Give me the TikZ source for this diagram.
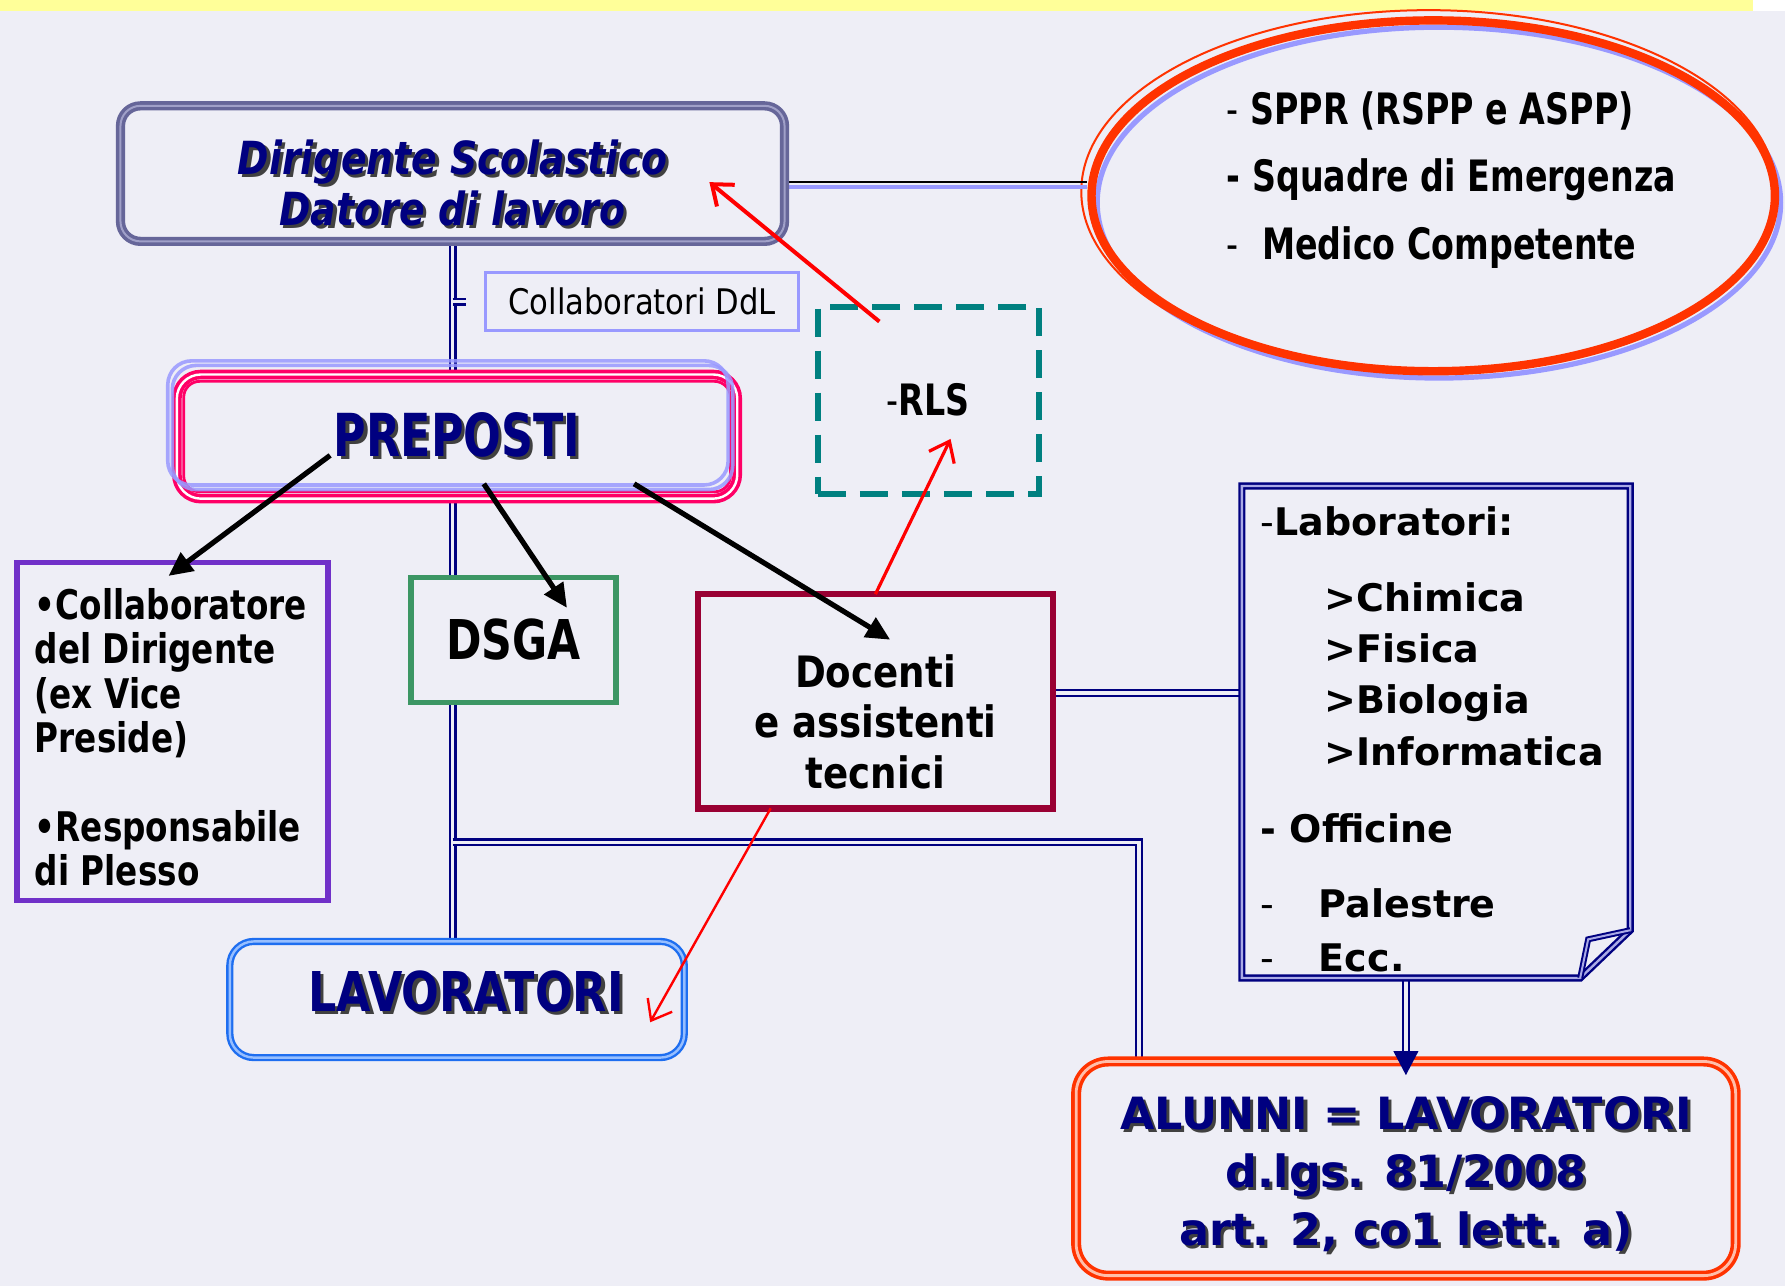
\documentclass[tikz,border=0pt]{standalone}
\usepackage{fontspec}
\setmainfont{DejaVu Sans}
\newfontfamily\fDir[FakeStretch=0.83]{DejaVu Sans}
\newfontfamily\fPrep[FakeStretch=0.75]{DejaVu Sans}
\newfontfamily\fLav[FakeStretch=0.81]{DejaVu Sans}
\newfontfamily\fDsga[FakeStretch=0.78]{DejaVu Sans}
\newfontfamily\fEll[FakeStretch=0.77]{DejaVu Sans}
\newfontfamily\fColl[FakeStretch=0.80]{DejaVu Sans}
\newfontfamily\fDoc[FakeStretch=0.86]{DejaVu Sans}
\newfontfamily\fDdl[FakeStretch=0.87]{DejaVu Sans}
\usetikzlibrary{arrows.meta,shapes.geometric,calc}
\definecolor{bgc}{RGB}{238,238,246}
\definecolor{navyc}{RGB}{0,0,128}
\definecolor{dirc}{RGB}{102,102,153}
\definecolor{dirin}{RGB}{160,160,200}
\definecolor{redc}{RGB}{255,51,0}
\definecolor{lavc}{RGB}{153,153,255}
\definecolor{pinkc}{RGB}{255,0,102}
\definecolor{tealc}{RGB}{0,128,128}
\definecolor{purc}{RGB}{112,48,200}
\definecolor{grnc}{RGB}{60,150,100}
\definecolor{marc}{RGB}{153,0,51}
\definecolor{bluc}{RGB}{30,110,240}
\definecolor{yelc}{RGB}{255,255,153}
\definecolor{labin}{RGB}{170,170,230}
\definecolor{aluin}{RGB}{255,190,170}
\definecolor{lavin}{RGB}{150,190,255}
\newcommand\shd[1]{\leavevmode\rlap{\kern0.8pt\raisebox{-0.8pt}{\textcolor{black!75}{#1}}}#1}
\pgfdeclarelayer{bgfill}
\pgfdeclarelayer{lines}
\pgfsetlayers{bgfill,lines,main}
\begin{document}
\begin{tikzpicture}[x=0.01cm,y=-0.01cm,
  box/.style={inner sep=0pt, outer sep=0pt, fill=bgc},
  lbl/.style={inner sep=0pt, align=center},
  dbl/.style={draw=navyc, line width=0.55pt, double=bgc, double distance=0.9pt},
  blk/.style={draw=black, line width=1.3pt, -{Triangle[length=6pt,width=5.5pt]}},
  redarr/.style={draw=red, -{Straight Barb[length=4.5pt,width=7pt]}},
]
\begin{pgfonlayer}{bgfill}
\fill[bgc] (0,0) rectangle (1568,1130);
\fill[yelc] (0,0) rectangle (1540,10);
\fill[white] (1540,0) rectangle (1568,10);
\end{pgfonlayer}
\useasboundingbox (0,0) rectangle (1568,1130);

% Dirigente
\node[box, draw=dirc, line width=0.9pt, double=dirin, double distance=0.5pt, rounded corners=5pt, minimum width=5.83cm, minimum height=1.19cm,
  label={[lbl, name=dirt, text=navyc, font=\fDir\bfseries\itshape\fontsize{11.4}{12.8}\selectfont, yshift=-0.095cm]center:{\shd{Dirigente Scolastico}\\\shd{Datore di lavoro}}}] (dir) at (397.5,152.5) {};

% ellipse
\node[ellipse, draw=redc, line width=2.1pt, minimum width=6cm, minimum height=3.08cm, inner sep=0pt,
  label={[lbl, align=left, name=ellt, font=\fEll\bfseries\fontsize{10.8}{16.8}\selectfont, xshift=0.16cm, yshift=0.14cm]center:{{\mdseries -} SPPR (RSPP e ASPP)\\- Squadre di Emergenza\\{\mdseries -}\ \ Medico Competente}}] (ell) at (1259,172) {};

% Collaboratori DdL
\node[box, draw=lavc, line width=0.8pt, minimum width=2.75cm, minimum height=0.51cm,
  font=\fDdl\fontsize{8.8}{10}\selectfont] (ddl) at (564,265) {Collaboratori DdL};

% PREPOSTI
\node[box, draw=pinkc, line width=0.9pt, double=white, double distance=0.6pt, rounded corners=6pt,
  minimum width=4.92cm, minimum height=1.09cm, text=navyc,
  font=\fPrep\bfseries\fontsize{14.8}{16}\selectfont] (prep) at (401.5,383.5) {\shd{PREPOSTI}};

% RLS
\node[box, draw=tealc, line width=1.5pt, dash pattern=on 7pt off 3.5pt, minimum width=1.94cm, minimum height=1.64cm,
  font=\fEll\bfseries\fontsize{10.8}{12}\selectfont] (rls) at (815.5,351.5) {{\mdseries -}RLS};

% Collaboratore del Dirigente
\node[box, draw=purc, line width=1.3pt, minimum width=2.73cm, minimum height=2.97cm,
  label={[lbl, align=left, anchor=north west, name=collt, font=\fColl\bfseries\fontsize{10.2}{11.1}\selectfont, xshift=0.15cm, yshift=-0.22cm]north west:{•Collaboratore\\del Dirigente\\(ex Vice\\Preside)\\[11.1pt]•Responsabile\\di Plesso}}] (coll) at (151.5,642.5) {};

% DSGA
\node[box, draw=grnc, line width=1.3pt, minimum width=1.8cm, minimum height=1.1cm,
  font=\fDsga\bfseries\fontsize{13.7}{15}\selectfont] (dsga) at (451,562) {DSGA};

% Docenti
\node[box, draw=marc, line width=1.6pt, minimum width=3.12cm, minimum height=1.88cm,
  label={[lbl, name=doct, font=\fDoc\bfseries\fontsize{10.8}{12.7}\selectfont, yshift=-0.18cm]center:{Docenti\\e assistenti\\tecnici}}] (doc) at (769,616) {};

% Laboratori (document shape)
\node[inner sep=0pt, outer sep=0pt, minimum width=3.41cm, minimum height=4.32cm] (lab) at (1261.5,643) {};
\draw[draw=navyc, line width=0.6pt, double=labin, double distance=0.6pt, fill=bgc]
  (lab.north west) -- (lab.north east) -- ($(lab.south east)+(0,-42)$) -- ($(lab.south east)+(-44,0)$) -- (lab.south west) -- cycle;
\draw[draw=navyc, line width=0.5pt, double=labin, double distance=0.5pt]
  ($(lab.south east)+(-44,0)$) -- ($(lab.south east)+(-37,-34)$) -- ($(lab.south east)+(0,-42)$);
\node[lbl, align=left, anchor=north west, font=\bfseries\fontsize{9.5}{12.8}\selectfont] (labtext) at ($(lab.north west)+(16,17)$) {{\mdseries -}Laboratori:\\[6.3pt]
  \hspace*{0.56cm}>Chimica\\
  \hspace*{0.56cm}>Fisica\\
  \hspace*{0.56cm}>Biologia\\
  \hspace*{0.56cm}>Informatica\\[6.5pt]
  - Officine\\[6pt]
  \makebox[0.51cm][l]{\mdseries -}Palestre\\[0.6pt]
  \makebox[0.51cm][l]{\mdseries -}Ecc.};

% ALUNNI
\node[box, draw=redc, line width=0.9pt, double=aluin, double distance=0.7pt, rounded corners=8pt,
  minimum width=5.79cm, minimum height=1.88cm,
  label={[lbl, name=alut, text=navyc, font=\bfseries\fontsize{11.1}{14.5}\selectfont, yshift=-0.06cm]center:{\shd{ALUNNI = LAVORATORI}\\\shd{d.lgs. 81/2008}\\\shd{art. 2, co1 lett. a)}}}] (alu) at (1235,1026.5) {};

% LAVORATORI
\node[box, draw=bluc, line width=0.6pt, double=lavin, double distance=0.6pt, rounded corners=6pt,
  minimum width=3.99cm, minimum height=1.02cm,
  label={[lbl, name=lavt, text=navyc, font=\fLav\bfseries\fontsize{13.7}{15}\selectfont, yshift=0.06cm, xshift=0.08cm]center:{\shd{LAVORATORI}}}] (lav) at (401.5,878) {};

% decorations on top
\draw[pinkc, line width=0.7pt, rounded corners=4pt] ($(prep.north west)+(6,6)$) rectangle ($(prep.south east)+(-6,-6)$);
\draw[lavc, line width=0.9pt, rounded corners=6pt, opacity=0.85] ($(prep.north west)+(-8,-12)$) rectangle ($(prep.south east)+(-8,-12)$);
\draw[lavc, line width=0.9pt, rounded corners=6pt, opacity=0.85] ($(prep.north west)+(-4,-8)$) rectangle ($(prep.south east)+(-4,-8)$);

% ellipse extra rings and connectors (under)
\begin{pgfonlayer}{lines}
\draw[lavc, line width=1.3pt] ($(ell.center)+(5,6)$) ellipse [x radius=3.0cm, y radius=1.54cm];
\draw[redc, line width=0.5pt] ($(ell.center)+(-4,-4)$) ellipse [x radius=3.05cm, y radius=1.59cm];
\coordinate (de) at ($(dir.east)+(0,7.5)$);
\draw[black, line width=0.6pt] (de) -- (de -| ell.west);
\draw[lavc, line width=1pt] ($(de)+(0,4)$) -- ($(de -| ell.west)+(0,4)$);
\draw[dbl] (dir.south) -- (dir.south |- prep.north);
\coordinate (eqm) at (dir.south |- ddl.west);
\draw[dbl] (eqm) -- ++(12,0);
\draw[dbl] (dir.south |- prep.south) -- (dir.south |- lav.north);
\coordinate (jn) at ($(dir.south |- doc.south)+(0,30)$);
\draw[dbl] (jn) -| ($(alu.north west)+(55,0)$);
\coordinate (dl) at ($(doc.east)+(0,-7)$);
\draw[dbl] (dl) -- (dl -| lab.west);
\coordinate (la) at ($(lab.south)+(-26.5,0)$);
\draw[dbl] (la) -- ($(la |- alu.north)+(0,-8)$);
\end{pgfonlayer}
\fill[navyc] ($(la |- alu.north)+(-11,-9)$) -- ++(22,0) -- ($(la |- alu.north)+(0,12)$) -- cycle;

% black arrows
\draw[blk] ($(prep.center)+(-111.5,16.5)$) -- ($(coll.north)+(-3.5,12)$);
\draw[blk] ($(prep.center)+(23.5,41.5)$) -- ($(dsga.north east)+(-43,27)$);
\draw[blk] ($(prep.center)+(155.5,41.5)$) -- ($(doc.north)+(13,40)$);

% red arrows
\draw[redarr, line width=1pt] ($(rls.north west)+(54,13)$) -- ($(dir.east)+(-66,7.5)$);
\draw[redarr, line width=0.8pt] (doc.north) -- ($(rls.south)+(19.5,-48)$);
\draw[redarr, line width=0.6pt] ($(doc.south)+(-92,0)$) -- ($(lav.east)+(-30,20)$);
\end{tikzpicture}
\end{document}
